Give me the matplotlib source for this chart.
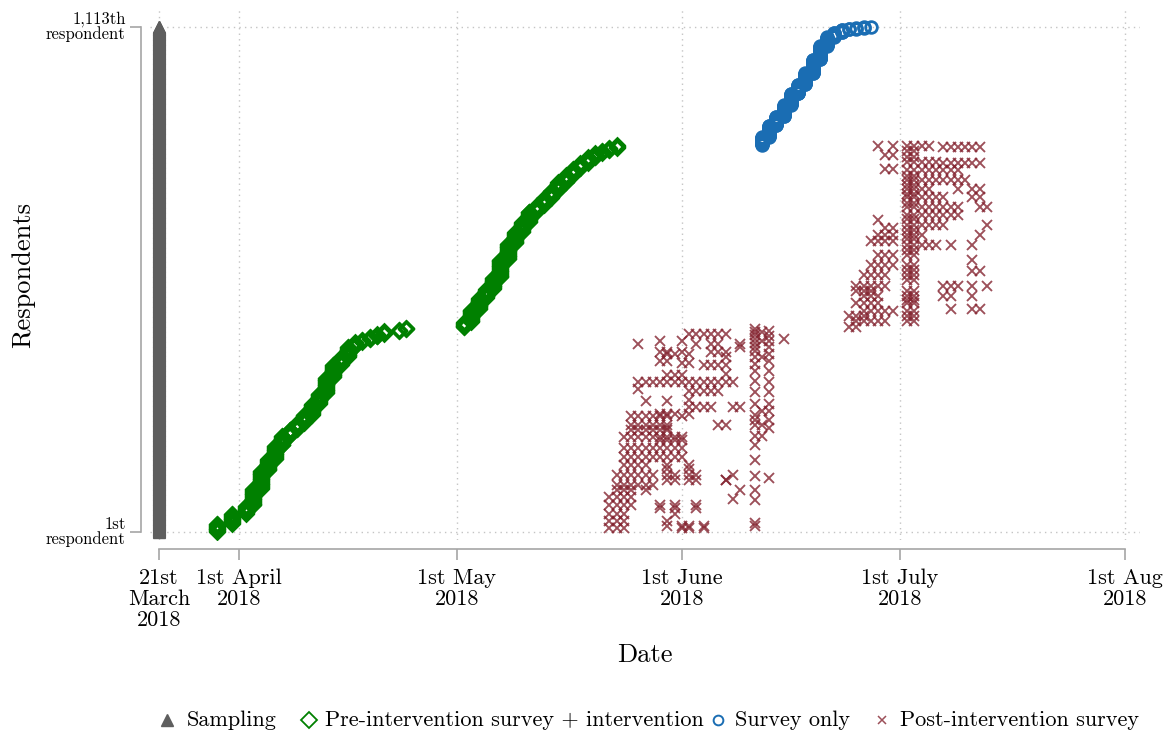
import numpy as np
import matplotlib
matplotlib.use("Agg")
import matplotlib.pyplot as plt
from matplotlib.lines import Line2D
import datetime as dt

plt.rcParams['font.family'] = ['cmr10', 'DejaVu Serif']
plt.rcParams['mathtext.fontset'] = 'cm'
plt.rcParams['axes.unicode_minus'] = False

# ---------------------------------------------------------------- data
START = dt.date(2018, 3, 21)          # sampling date, day 0 on the x axis
N_RESP = 1113

tick_dates = [dt.date(2018, 3, 21), dt.date(2018, 4, 1), dt.date(2018, 5, 1),
              dt.date(2018, 6, 1), dt.date(2018, 7, 1), dt.date(2018, 8, 1)]
tick_labels = ["21st\nMarch\n2018", "1st April\n2018", "1st May\n2018",
               "1st June\n2018", "1st July\n2018", "1st Aug\n2018"]
ytick_labels = ["1st\nrespondent", "1,113th\nrespondent"]

# Pre-intervention survey + intervention: field day (days after 21 March)
# and cumulative number of respondents reached by the end of that day
pre_day = [8, 10, 12, 13, 14, 15, 16, 17, 18, 19, 20, 21, 22, 23, 24, 25, 26, 27,
           28, 29, 30, 31, 33, 34,
           42, 43, 44, 45, 46, 47, 48, 49, 50, 51, 52, 53, 54, 55, 56, 57, 58, 59,
           60, 61, 62, 63]
pre_cum = [18, 40, 58, 95, 135, 160, 190, 212, 226, 240, 258, 282, 305, 340, 368,
           385, 408, 418, 424, 430, 436, 442, 446, 450,
           462, 490, 515, 535, 560, 600, 635, 660, 682, 706, 720, 735, 752, 770,
           786, 800, 812, 825, 834, 840, 846, 852]

# Survey only arm
svy_day = [83, 84, 85, 86, 87, 88, 89, 90, 91, 92, 93, 94, 95, 96, 97, 98]
svy_cum = [870, 895, 915, 940, 965, 985, 1010, 1040, 1070, 1090, 1100, 1106,
           1108, 1110, 1112, 1113]

# Post-intervention survey visits: respondent position and the run of
# consecutive field days (first, last) on which visits were logged
post_resp = [
    # first wave follow-up
    437, 415, 415, 415, 415, 397, 397, 397, 377, 372, 368, 330, 315, 310, 288, 288,
    290, 275, 275, 255, 255, 237, 237, 226, 210, 185, 165, 148, 148, 148, 125, 125,
    125, 125, 103, 92, 92, 92, 77, 59, 59, 59, 59, 41, 41, 25, 25, 10, 10, 10,
    408, 386, 348, 114, 74, 426,
    420, 420, 392, 392, 346, 260, 260, 230, 204, 140, 140, 114, 114, 114,
    54, 54, 54, 14, 14, 14,
    448, 441, 435, 426, 417, 408, 399, 386, 370, 355, 333, 308, 282, 259, 248, 237,
    212, 192, 159, 123, 92, 70, 21, 14,
    444, 433, 421, 408, 392, 377, 355, 330, 308, 282, 266, 248, 230, 119,
    440, 421, 386, 266, 237, 212,
    # second wave follow-up
    850, 850, 851, 848, 830, 815, 812, 799, 797, 775, 755, 755, 755, 737, 737,
    715, 715, 699, 688, 677, 677, 670, 655, 655, 655, 642, 633, 633, 633, 610, 610,
    599, 588, 588, 575, 566, 566, 543, 541, 541, 541, 521, 521, 521, 521, 504, 504,
    492, 492, 486, 486, 466, 464, 452,
    840, 825, 785, 765, 745, 725, 690, 665, 645, 622, 578, 555, 532, 512, 475,
    530, 475,
]
post_from = [
    73, 66, 74, 76, 80, 69, 72, 76, 69, 72, 75, 66, 66, 73, 67, 70,
    73, 73, 79, 65, 72, 65, 77, 65, 64, 64, 64, 64, 70, 73, 63, 70,
    73, 79, 63, 63, 67, 80, 62, 62, 69, 71, 74, 62, 71, 62, 70, 62, 72, 75,
    80, 78, 78, 78, 79, 86,
    69, 72, 70, 73, 70, 69, 73, 70, 69, 70, 73, 70, 73, 78,
    69, 71, 74, 70, 72, 75,
    82, 82, 82, 82, 82, 82, 82, 82, 82, 82, 82, 82, 82, 82, 82, 82,
    82, 82, 82, 82, 82, 82, 82, 82,
    84, 84, 84, 84, 84, 84, 84, 84, 84, 84, 84, 84, 84, 84,
    83, 83, 83, 83, 83, 83,
    99, 101, 103, 108, 100, 103, 108, 100, 103, 103, 103, 110, 112, 103, 112,
    103, 113, 103, 99, 103, 114, 100, 99, 103, 113, 98, 103, 109, 112, 99, 103,
    112, 98, 103, 112, 97, 103, 96, 108, 112, 114, 97, 103, 108, 112, 96, 103,
    109, 112, 97, 103, 103, 96, 95,
    103, 103, 103, 103, 103, 103, 103, 103, 103, 103, 103, 103, 103, 103, 103,
    96, 95,
]
post_to = [
    78, 66, 74, 77, 80, 70, 72, 78, 70, 73, 78, 79, 66, 77, 67, 70,
    73, 76, 80, 70, 72, 70, 78, 70, 72, 72, 72, 67, 70, 73, 68, 71,
    74, 79, 68, 65, 67, 80, 65, 65, 69, 71, 74, 64, 71, 64, 70, 64, 73, 75,
    80, 78, 78, 78, 79, 86,
    69, 72, 71, 73, 72, 71, 73, 70, 72, 70, 73, 71, 74, 78,
    69, 71, 74, 70, 73, 75,
    82, 82, 82, 82, 82, 82, 82, 82, 82, 82, 82, 82, 82, 82, 82, 82,
    82, 82, 82, 82, 82, 82, 82, 82,
    84, 84, 84, 84, 84, 84, 84, 84, 84, 84, 84, 84, 84, 84,
    83, 83, 83, 83, 83, 83,
    99, 101, 106, 113, 101, 107, 113, 101, 110, 111, 106, 110, 113, 108, 113,
    110, 114, 110, 99, 108, 114, 101, 101, 105, 113, 101, 107, 109, 112, 101, 104,
    112, 101, 104, 113, 100, 104, 100, 110, 112, 114, 99, 104, 109, 112, 99, 104,
    109, 113, 101, 104, 104, 100, 96,
    104, 104, 104, 104, 104, 104, 104, 104, 104, 104, 104, 104, 104, 104, 104,
    98, 97,
]

# ---------------------------------------------------------------- helpers
def daily_points(days, cum, first):
    xs, ys = [], []
    prev = first - 1
    for d, c in zip(days, cum):
        ids = np.arange(prev + 1, c + 1)
        xs.extend([d] * len(ids))
        ys.extend(ids)
        prev = c
    return np.array(xs, float), np.array(ys, float)


def run_points(resp, first, last):
    xs, ys = [], []
    for r, a, b in zip(resp, first, last):
        for d in range(a, b + 1):
            xs.append(d)
            ys.append(r)
    return np.array(xs, float), np.array(ys, float)


samp_y = np.arange(1, N_RESP + 1)
samp_x = np.zeros_like(samp_y, dtype=float)
pre_x, pre_y = daily_points(pre_day, pre_cum, 1)
svy_x, svy_y = daily_points(svy_day, svy_cum, pre_cum[-1] + 1)
post_x, post_y = run_points(post_resp, post_from, post_to)

# ---------------------------------------------------------------- styling
C_SAMP = '#5e5e5e'
C_PRE = '#008000'
C_SVY = '#1a6db3'
C_POST = '#842430'
C_AXIS = '#a6a6a6'
C_GRID = '#c4c4c4'

W, H = 1173, 737
fig = plt.figure(figsize=(W / 100, H / 100), dpi=100)
ax = fig.add_axes([150 / W, 197 / H, 990 / W, 530 / H])

ax.plot(samp_x, samp_y, ls='none', marker='^', ms=8.5, color=C_SAMP,
        mec=C_SAMP, zorder=3)
ax.plot(pre_x, pre_y, ls='none', marker='D', ms=7.4, mfc='none', mec=C_PRE,
        mew=1.9, zorder=3)
ax.plot(svy_x, svy_y, ls='none', marker='o', ms=8.4, mfc='none', mec=C_SVY,
        mew=2.0, zorder=3)
ax.plot(post_x, post_y, ls='none', marker='x', ms=7.0, mew=1.35, color=C_POST,
        alpha=0.8, zorder=3)

tick_pos = [(d - START).days for d in tick_dates]
px_per_day = (1125 - 159) / tick_pos[-1]
ax.set_xlim(-9 / px_per_day, (1140 - 159) / px_per_day)
px_per_resp = (531.7 - 26.7) / (N_RESP - 1)
ax.set_ylim(1 - 8.3 / px_per_resp, N_RESP + 16.7 / px_per_resp)

for s in ('top', 'right'):
    ax.spines[s].set_visible(False)
ax.spines['left'].set_position(('outward', 6.5))
ax.spines['bottom'].set_position(('outward', 6.5))
ax.spines['left'].set_bounds(1, N_RESP)
ax.spines['bottom'].set_bounds(tick_pos[0], tick_pos[-1])
for s in ('left', 'bottom'):
    ax.spines[s].set_color(C_AXIS)
    ax.spines[s].set_linewidth(1.2)
ax.tick_params(axis='x', length=8, width=1.2, color=C_AXIS, pad=6, labelsize=16)
ax.tick_params(axis='y', length=8, width=1.2, color=C_AXIS, pad=3, labelsize=12)

ax.set_xticks(tick_pos)
ax.set_xticklabels(tick_labels, fontsize=16, linespacing=1.08)
ax.set_yticks([1, N_RESP])
ax.set_yticklabels(ytick_labels, fontsize=12, linespacing=0.95,
                   ha='right', va='center')

ax.grid(True, color=C_GRID, linestyle=(0, (1, 3)), linewidth=1.0, zorder=0)
ax.set_axisbelow(True)

ax.set_xlabel('Date', fontsize=19, labelpad=10)
ax.set_ylabel('Respondents', fontsize=19, labelpad=8)

# legend row along the bottom
ly = 17 / H
entries = [
    (167, '^', dict(color=C_SAMP, ms=8), 'Sampling', 187),
    (309, 'D', dict(mfc='none', mec=C_PRE, mew=1.3, ms=8), 'Pre-intervention survey + intervention', 325),
    (718, 'o', dict(mfc='none', mec=C_SVY, mew=1.4, ms=7), 'Survey only', 735),
    (882, 'x', dict(color=C_POST, mew=1.1, ms=6, alpha=0.8), 'Post-intervention survey', 900),
]
for mx, mk, kw, label, tx in entries:
    fig.add_artist(Line2D([mx / W], [ly], marker=mk, ls='none',
                          transform=fig.transFigure, **kw))
    fig.text(tx / W, ly, label, fontsize=16, va='center', ha='left')

fig.savefig('out.png', dpi=100)
